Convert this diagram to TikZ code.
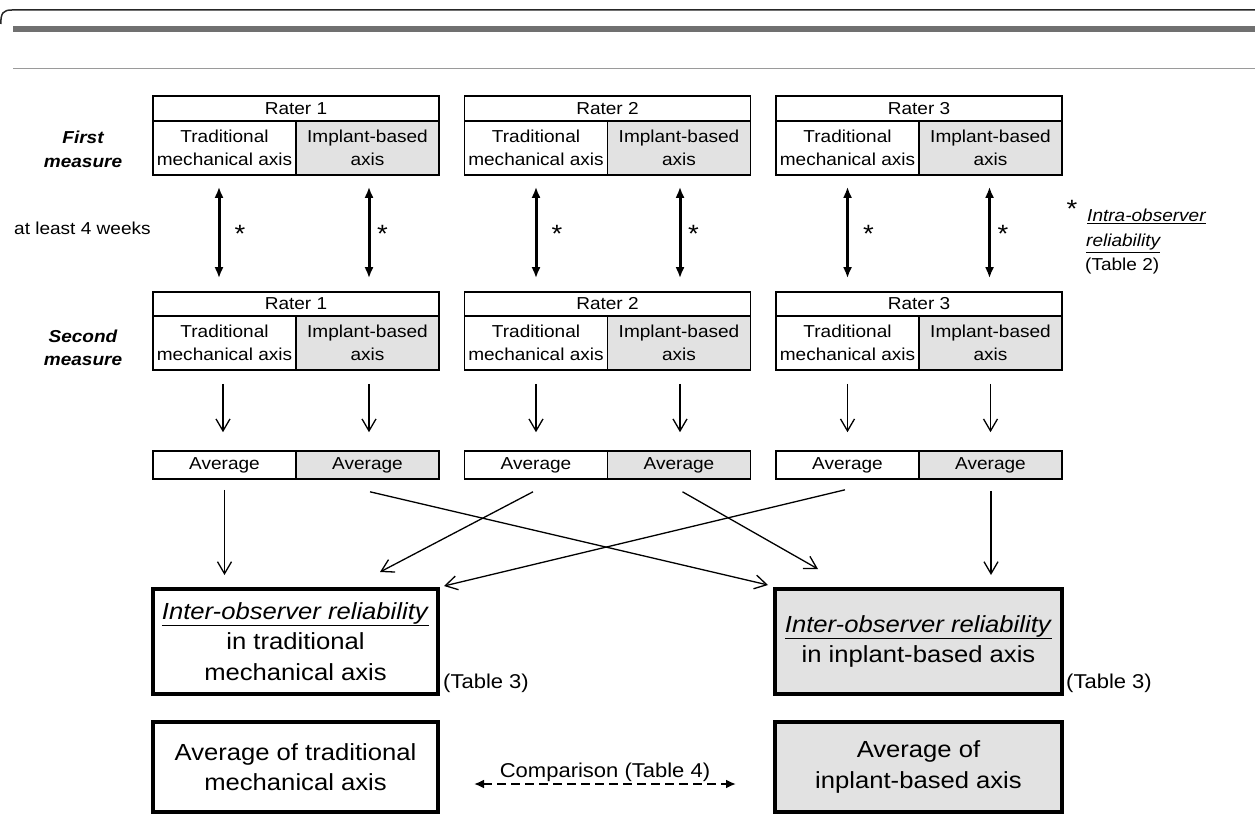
\documentclass[tikz,border=0pt]{standalone}
\usepackage{fontspec}
\setmainfont[FakeStretch=1.1]{Liberation Sans}
\usetikzlibrary{arrows.meta,calc}
\definecolor{cellgray}{HTML}{E2E2E2}
\definecolor{bargray}{HTML}{707070}
\definecolor{linegray}{HTML}{9A9A9A}
\newcommand{\fsSmall}{\fontsize{17.3}{23}\selectfont}
\newcommand{\fsBig}{\fontsize{23.3}{30.5}\selectfont}
\newcommand{\fsMid}{\fontsize{20}{22}\selectfont}
\newcommand{\fsStar}{\fontsize{25}{25}\selectfont}
\begin{document}
\begin{tikzpicture}[x=1pt,y=-1pt,
  cell/.style={draw=black, line width=1.6pt, inner sep=0pt, align=center, font=\fsSmall},
  graycell/.style={cell, fill=cellgray},
  bigbox/.style={draw=black, line width=4pt, inner sep=0pt, align=center, font=\fsBig},
  lbl/.style={inner sep=0pt, font=\fsSmall},
  sidelbl/.style={inner sep=0pt, font=\fsSmall\bfseries\itshape, anchor=base},
  asterisk/.style={inner sep=0pt, font=\fsStar},
  dbl/.style={{Latex[length=11pt,width=9pt]}-{Latex[length=11pt,width=9pt]}, line width=3pt},
  down/.style={-{Straight Barb[length=12pt,width=14pt]}, line width=1.3pt},
  cmp/.style={{Latex[length=10pt,width=9pt]}-{Latex[length=10pt,width=9pt]}, dash pattern=on 9pt off 5pt, line width=2.8pt}
]
\useasboundingbox (0,0) rectangle (1255,834);
% header decoration
\draw[line width=1.5pt, black!85] (0.8,24) .. controls (0.8,13) and (3,10) .. (12,10) -- (1255,10);
\fill[bargray] (13,26) rectangle (1255,32);
\draw[line width=1.3pt, linegray] (13,68.5) -- (1255,68.5);

% side labels
\node[sidelbl] (fm1) at (83,144) {First};
\node[sidelbl] (fm2) at (83,168) {measure};
\node[sidelbl] (sm1) at (83,342) {Second};
\node[sidelbl] (sm2) at (83,365) {measure};
\node[lbl, anchor=base west] (weeks) at (14,235) {at least 4 weeks};

% rater blocks
\foreach \i/\dx in {1/0, 2/311.5, 3/623}{
  \node[cell, minimum width=286, minimum height=25] (h\i) at (296+\dx,108.5) {Rater \i};
  \node[cell, minimum width=143, minimum height=54] (t\i) at (224.5+\dx,148) {Traditional\\mechanical axis};
  \node[graycell, minimum width=143, minimum height=54] (p\i) at (367.5+\dx,148) {Implant-based\\axis};
  \node[cell, minimum width=286, minimum height=24] (H\i) at (296+\dx,304) {Rater \i};
  \node[cell, minimum width=143, minimum height=54] (T\i) at (224.5+\dx,343) {Traditional\\mechanical axis};
  \node[graycell, minimum width=143, minimum height=54] (P\i) at (367.5+\dx,343) {Implant-based\\axis};
  \node[cell, minimum width=143, minimum height=28] (at\i) at (224.5+\dx,465) {Average};
  \node[graycell, minimum width=143, minimum height=28] (ap\i) at (367.5+\dx,465) {Average};
}

% double arrows and asterisks
\foreach \i/\ot/\op in {1/-5.5/1.5, 2/0/1, 3/0/-1}{
  \draw[dbl] ($(t\i.south)+(\ot,11)$) -- ($(t\i.south |- H\i.north)+(\ot,-13)$);
  \draw[dbl] ($(p\i.south)+(\op,11)$) -- ($(p\i.south |- H\i.north)+(\op,-13)$);
  \node[asterisk] (st\i) at ($(t\i.south)+(\ot+21,58)$) {*};
  \node[asterisk] (sp\i) at ($(p\i.south)+(\op+13.5,58)$) {*};
}

% down arrows to averages
\foreach \i/\ot/\op in {1/-1.5/1.5, 2/0/1, 3/0/0}{
  \draw[down] ($(T\i.south)+(\ot,13)$) -- ($(at\i.north)+(\ot,-18)$);
  \draw[down] ($(P\i.south)+(\op,13)$) -- ($(ap\i.north)+(\op,-18)$);
}

% intra-observer note
\node[asterisk] (istar) at (1072,209) {*};
\node[lbl, anchor=base west] (intra1) at (1087,222) {\itshape\underline{Intra-observer}};
\node[lbl, anchor=base west] (intra2) at (1086,247) {\itshape\underline{reliability}};
\node[lbl, anchor=base west] (intra3) at (1085,270) {(Table 2)};

% bottom boxes
\node[bigbox, minimum width=285, minimum height=105] (li) at (295.5,641.5)
  {\underline{\textit{Inter-observer reliability}}\\in traditional\\mechanical axis};
\node[bigbox, fill=cellgray, minimum width=287, minimum height=105] (ri) at (918.5,641.5)
  {\underline{\textit{Inter-observer reliability}}\\in inplant-based axis};
\node[bigbox, minimum width=285, minimum height=90] (la) at (295.5,767)
  {Average of traditional\\mechanical axis};
\node[bigbox, fill=cellgray, minimum width=287, minimum height=90] (ra) at (918.5,767)
  {Average of\\inplant-based axis};

\node[inner sep=0pt, font=\fsMid, anchor=base west] (tab3l) at (443,688) {(Table 3)};
\node[inner sep=0pt, font=\fsMid, anchor=base west] (tab3r) at (1066,688) {(Table 3)};

% averages to inter-observer boxes
\draw[down] ($(at1.south)+(0,10)$) -- ($(at1.south |- li.north)+(0,-12)$);
\draw[down] ($(ap1.south)+(2.5,12)$) -- ($(ri.north west)+(-5,-2)$);
\draw[down] ($(at2.south)+(-3,12)$) -- ($(li.north)+(84.5,-15)$);
\draw[down] ($(ap2.south)+(3.5,12)$) -- ($(ri.north)+(-100.5,-18)$);
\draw[down] ($(at3.south)+(-2.5,10)$) -- ($(li.north east)+(4,-1)$);
\draw[down] ($(ap3.south)+(0.5,11)$) -- ($(ap3.south |- ri.north)+(0.5,-12)$);

% comparison
\draw[cmp] ($(la.east)+(34,17)$) -- node[above=0pt, inner sep=1pt, font=\fsMid] (cmpl) {Comparison (Table 4)} ($(ra.west)+(-37,17)$);
\end{tikzpicture}
\end{document}
